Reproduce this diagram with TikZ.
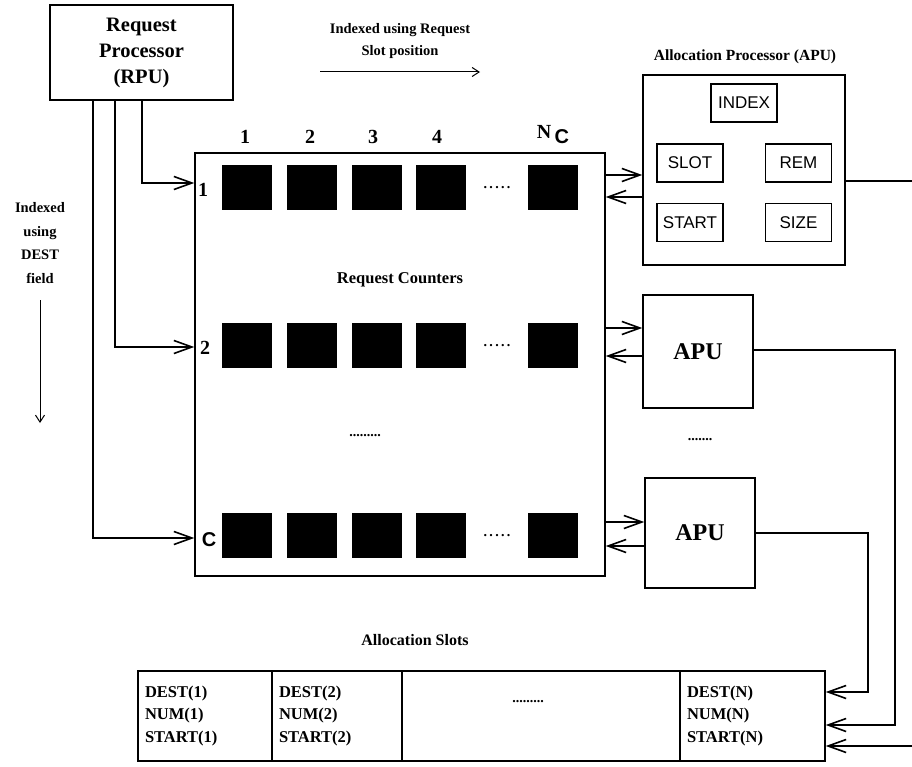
\documentclass[tikz,border=0pt]{standalone}
\usepackage{fontspec}
\setmainfont{Liberation Serif}
\setsansfont{Liberation Sans}
\usetikzlibrary{arrows.meta}
\begin{document}
\begin{tikzpicture}[x=1pt,y=-1pt,
  box/.style={draw, line width=1.5pt, inner sep=0pt, align=center},
  sq/.style={fill=black, minimum width=50pt, minimum height=45pt, inner sep=0pt},
  conn/.style={line width=1.6pt, -{Straight Barb[length=18pt,width=13pt]}},
  thinarrow/.style={line width=1pt, -{Straight Barb[length=7pt,width=9pt]}},
  lbl/.style={font=\fontsize{14.5}{18}\selectfont\bfseries, align=center, inner sep=0pt},
  big/.style={font=\fontsize{20}{25}\selectfont\bfseries},
  sans/.style={font=\fontsize{17}{18}\selectfont\sffamily},
  cell/.style={draw, line width=1.5pt, minimum height=90pt, inner ysep=0pt, inner xsep=7pt, align=left, font=\fontsize{16.5}{22.5}\selectfont\bfseries},
  dotsty/.style={font=\fontsize{14}{16}\selectfont\bfseries, inner sep=0pt}
]
\useasboundingbox (0,0) rectangle (912,767);

% Request processor
\node[box, minimum width=183pt, minimum height=95pt, font=\fontsize{20.5}{26}\selectfont\bfseries] (rpu) at (141.5,52.5) {Request\\Processor\\(RPU)};

% top label
\node[lbl] (ttl1) at (400,30) {Indexed using Request};
\node[lbl] (ttl2) at (400,52) {Slot position};
\coordinate (ta1) at (320,72);
\coordinate (ta2) at (480,72);
\draw[thinarrow] (ta1) -- (ta2);

% left label
\node[lbl, font=\fontsize{14.5}{23.5}\selectfont\bfseries] (ltxt) at (40,243) {Indexed\\using\\DEST\\field};
\coordinate (la1) at (40,300);
\coordinate (la2) at (40,423);
\draw[thinarrow] (la1) -- (la2);

% main box
\node[box, minimum width=410pt, minimum height=423pt] (main) at (400,364.5) {};
\node[lbl, font=\fontsize{16.5}{18}\selectfont\bfseries] (rc) at (400,280) {Request Counters};

% column labels
\node[big] (c1) at (245,137) {1};
\node[big] (c2) at (310,137) {2};
\node[big] (c3) at (373,137) {3};
\node[big] (c4) at (437,137) {4};
\node[big] (cn) at (553,135) {N\,\raisebox{-5pt}{\sffamily C}};

% rows of squares
\foreach \r/\y in {a/187.5, b/345.5, c/535.5} {
  \foreach \c/\x in {1/247, 2/312, 3/377, 4/441, n/553} {
    \node[sq] (s\r\c) at (\x,\y) {};
  }
  \node[dotsty] (d\r) at (497,\y) {.\,.\,.\,.\,.};
}
\node[big] (rl1) at (203,190) {1};
\node[big] (rl2) at (205,348) {2};
\node[big, font=\fontsize{20}{25}\selectfont\sffamily\bfseries] (rl3) at (209,540) {C};
\node[dotsty] (mdots) at (365,436) {.........};

% RPU connectors
\coordinate (l1) at (142,183);
\coordinate (l2) at (115,347);
\coordinate (l3) at (93,538);
\draw[conn] (rpu.south -| l1) -- (l1) -- (main.west |- l1);
\draw[conn] (rpu.south -| l2) -- (l2) -- (main.west |- l2);
\draw[conn] (rpu.south -| l3) -- (l3) -- (main.west |- l3);

% Allocation processor
\node[lbl, font=\fontsize{15.5}{18}\selectfont\bfseries] (apt) at (745,57) {Allocation Processor (APU)};
\node[box, minimum width=202pt, minimum height=190pt] (apu1) at (744,170) {};
\node[box, sans, minimum width=66pt, minimum height=38pt] (idx) at (744,103) {INDEX};
\node[box, sans, minimum width=66pt, minimum height=38pt] (slot) at (690,163) {SLOT};
\node[box, sans, minimum width=66pt, minimum height=38pt] (rem) at (798.5,163) {REM};
\node[box, sans, minimum width=66pt, minimum height=38pt] (start) at (690,222.5) {START};
\node[box, sans, minimum width=66pt, minimum height=38pt] (size) at (798.5,222.5) {SIZE};

\node[box, font=\fontsize{24}{28}\selectfont\bfseries, minimum width=110pt, minimum height=113pt] (apu2) at (698,351.5) {APU};
\node[dotsty] (adots) at (700,440) {.......};
\node[box, font=\fontsize{24}{28}\selectfont\bfseries, minimum width=110pt, minimum height=110pt] (apu3) at (700,533) {APU};

% main <-> APU arrows
\foreach \n/\yi/\yo in {apu1/175/197, apu2/328/356, apu3/522/546} {
  \coordinate (\n i) at (0,\yi);
  \coordinate (\n o) at (0,\yo);
  \draw[conn] (main.east |- \n i) -- (\n.west |- \n i);
  \draw[conn] (\n.west |- \n o) -- (main.east |- \n o);
}

% Allocation slots
\node[lbl, font=\fontsize{16}{18}\selectfont\bfseries] (ast) at (415,640) {Allocation Slots};
\node[cell, minimum width=134pt, text width=120pt] (cell1) at (205,716) {DEST(1)\\NUM(1)\\START(1)};
\node[cell, minimum width=130pt, text width=116pt] (cell2) at (337,716) {DEST(2)\\NUM(2)\\START(2)};
\node[cell, minimum width=278pt, text width=264pt] (cell3) at (541,716) {};
\node[cell, minimum width=145pt, text width=131pt] (slotN) at (752.5,716) {DEST(N)\\NUM(N)\\START(N)};
\node[dotsty] (sdots) at (528,702) {.........};

% APU -> slots
\coordinate (r1) at (918,181);
\coordinate (r1b) at (918,746);
\coordinate (r2) at (895,350);
\coordinate (r2b) at (895,725);
\coordinate (r3) at (868,533);
\coordinate (r3b) at (868,692);
\draw[conn] (apu1.east |- r1) -- (r1) -- (r1b) -- (slotN.east |- r1b);
\draw[conn] (apu2.east |- r2) -- (r2) -- (r2b) -- (slotN.east |- r2b);
\draw[conn] (apu3.east |- r3) -- (r3) -- (r3b) -- (slotN.east |- r3b);
\end{tikzpicture}
\end{document}
